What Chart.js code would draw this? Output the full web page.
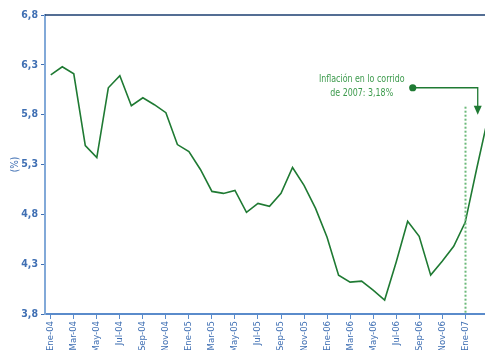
<!DOCTYPE html>
<html>
<head>
<meta charset="utf-8">
<script src="https://cdn.jsdelivr.net/npm/chart.js@4/dist/chart.umd.min.js"></script>
<style>
  html, body { margin: 0; padding: 0; background: #ffffff; overflow: hidden; width: 485px; height: 350px; }
  #wrap { position: relative; width: 485px; height: 350px; overflow: hidden; }
  #c { position: absolute; left: 0; top: 0; }
</style>
</head>
<body>
<div id="wrap"><canvas id="c" width="494" height="350"></canvas></div>
<script>
// Monthly annual inflation (%), January 2004 to March 2007
const months = [
  'Ene-04','Feb-04','Mar-04','Abr-04','May-04','Jun-04','Jul-04','Ago-04','Sep-04','Oct-04','Nov-04','Dic-04',
  'Ene-05','Feb-05','Mar-05','Abr-05','May-05','Jun-05','Jul-05','Ago-05','Sep-05','Oct-05','Nov-05','Dic-05',
  'Ene-06','Feb-06','Mar-06','Abr-06','May-06','Jun-06','Jul-06','Ago-06','Sep-06','Oct-06','Nov-06','Dic-06',
  'Ene-07','Feb-07','Mar-07'
];
const inflation = [
  6.20, 6.28, 6.21, 5.49, 5.37, 6.07, 6.19, 5.89, 5.97, 5.90, 5.82, 5.50,
  5.43, 5.25, 5.03, 5.01, 5.04, 4.82, 4.91, 4.88, 5.01, 5.27, 5.09, 4.86,
  4.57, 4.19, 4.12, 4.13, 4.04, 3.94, 4.32, 4.73, 4.58, 4.19, 4.33, 4.48,
  4.72, 5.26, 5.78
];
const yTicks = [3.8, 4.3, 4.8, 5.3, 5.8, 6.3, 6.8];
const noteLines = ['Inflación en lo corrido', 'de 2007: 3,18%'];
const noteTarget = { month: 'Feb-07', value: 5.8, elbowValue: 6.07 };
const markerLine = { month: 'Ene-07', from: 5.88 };
const lastLabelled = 'Ene-07';

const condensed = "'Liberation Sans Narrow', 'DejaVu Sans Condensed', 'Arial Narrow', 'Liberation Sans', sans-serif";
const axisBlue = '#3f6fb3';
const lineGreen = '#1f7a33';

const extras = {
  id: 'extras',
  afterDatasetsDraw(chart) {
    const { ctx, chartArea, scales } = chart;
    const x = scales.x, y = scales.y;
    ctx.save();
    // dark frame line along the top of the plot
    ctx.strokeStyle = '#1b3e70';
    ctx.lineWidth = 1.5;
    ctx.beginPath();
    ctx.moveTo(chartArea.left, chartArea.top);
    ctx.lineTo(chart.width, chartArea.top);
    ctx.stroke();

    // dotted marker at the start of 2007
    const mx = Math.round(x.getPixelForValue(months.indexOf(markerLine.month))) + 0.5;
    ctx.strokeStyle = '#6cb97a';
    ctx.lineWidth = 2;
    ctx.setLineDash([2, 2]);
    ctx.beginPath();
    ctx.moveTo(mx, y.getPixelForValue(markerLine.from));
    ctx.lineTo(mx, chartArea.bottom);
    ctx.stroke();
    ctx.setLineDash([]);

    // note with leader and arrow
    const ax = x.getPixelForValue(months.indexOf(noteTarget.month)) + 1;
    const ay = y.getPixelForValue(noteTarget.value);
    const ey = y.getPixelForValue(noteTarget.elbowValue);
    const dotX = ax - 65;
    ctx.strokeStyle = lineGreen;
    ctx.fillStyle = lineGreen;
    ctx.lineWidth = 1.3;
    ctx.beginPath();
    ctx.moveTo(dotX, ey);
    ctx.lineTo(ax, ey);
    ctx.lineTo(ax, ay - 7);
    ctx.stroke();
    ctx.beginPath();
    ctx.moveTo(ax - 4, ay - 9);
    ctx.lineTo(ax + 4, ay - 9);
    ctx.lineTo(ax, ay);
    ctx.closePath();
    ctx.fill();
    ctx.beginPath();
    ctx.arc(dotX, ey, 3.6, 0, Math.PI * 2);
    ctx.fill();

    // condensed note text
    const tx = dotX - 51;
    const squeeze = 0.8;
    ctx.fillStyle = '#3c9a4c';
    ctx.font = '11px ' + condensed;
    ctx.textAlign = 'center';
    ctx.textBaseline = 'middle';
    ctx.translate(tx, ey);
    ctx.scale(squeeze, 1);
    ctx.fillText(noteLines[0], 0, -9);
    ctx.fillText(noteLines[1], 0, 5);
    ctx.restore();
  }
};

new Chart(document.getElementById('c'), {
  type: 'line',
  data: {
    labels: months,
    datasets: [{
      data: inflation,
      borderColor: lineGreen,
      borderWidth: 1.6,
      pointRadius: 0,
      tension: 0,
      fill: false
    }]
  },
  options: {
    responsive: false,
    animation: false,
    devicePixelRatio: 1,
    layout: { padding: { top: 15, right: 0, left: 0, bottom: 0 } },
    plugins: { legend: { display: false }, tooltip: { enabled: false } },
    scales: {
      x: {
        offset: true,
        border: { display: true, color: '#5a8bcb', width: 2 },
        grid: { display: true, drawOnChartArea: false, drawTicks: true, tickLength: 5, color: '#5a8bcb', offset: false },
        ticks: {
          autoSkip: false,
          maxRotation: 90,
          minRotation: 90,
          padding: 2,
          color: axisBlue,
          font: { family: condensed, size: 9.5 },
          callback: (v, i) => (i % 2 === 0 && i <= months.indexOf(lastLabelled) ? months[i] : null)
        },
        afterFit: (s) => { s.height = 36; }
      },
      y: {
        min: 3.8,
        max: 6.8,
        afterBuildTicks: (s) => { s.ticks = yTicks.map(v => ({ value: v })); },
        border: { display: true, color: '#82a9d8', width: 2 },
        grid: { display: true, drawOnChartArea: false, drawTicks: true, tickLength: 4, color: '#3f6fb3' },
        ticks: {
          padding: 3,
          color: axisBlue,
          font: { family: condensed, size: 10.5, weight: 'bold' },
          callback: (v) => Number(v).toFixed(1).replace('.', ',')
        },
        title: {
          display: true,
          text: '(%)',
          color: axisBlue,
          font: { family: condensed, size: 10 },
          padding: { top: 9, bottom: 0 }
        },
        afterFit: (s) => { s.width = 45; }
      }
    }
  },
  plugins: [extras]
});
</script>
</body>
</html>
